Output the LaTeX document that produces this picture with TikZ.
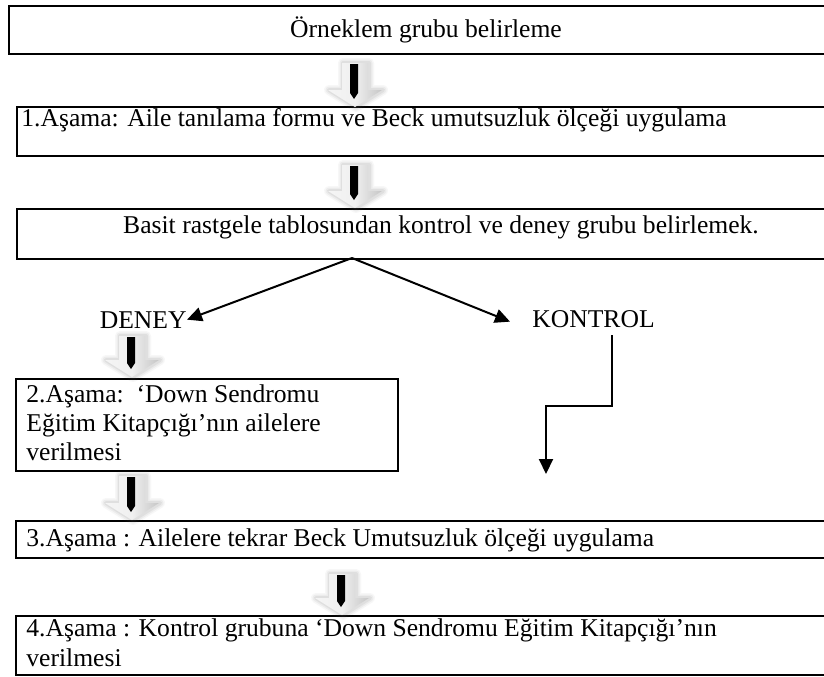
\documentclass[tikz,border=0pt]{standalone}
\usepackage{fontspec}
\setmainfont{Liberation Serif}
\usetikzlibrary{arrows.meta,calc}
\newcommand\BArrowPoly[3]{({#1-13},#2) -- ({#1+13},#2) -- ({#1+13},{#3-17}) -- ({#1+27},{#3-17}) -- (#1,#3) -- ({#1-27},{#3-17}) -- ({#1-13},{#3-17}) -- cycle}
\newcommand\BArrow[3]{%
  \foreach \w/\o in {10/0.05,7/0.07,4/0.09}{%
    \draw[black!60, opacity=\o, line width=\w*0.5pt, line join=round] \BArrowPoly{#1+1}{#2}{#3};
  }
  \shade[left color=gray!8, right color=gray!45, middle color=gray!12] \BArrowPoly{#1}{#2}{#3};
  \fill[black] ({#1-5},{#2+1}) -- ({#1+3},{#2+1}) -- ({#1+3},{#3-14}) -- ({#1-1},{#3-8}) -- ({#1-5},{#3-14}) -- cycle;
}
\begin{document}
\begin{tikzpicture}[x=0.5pt,y=-0.5pt,
  box/.style={draw, line width=1.2pt, anchor=north west, inner sep=0pt},
  txt/.style={font=\fontsize{12.8pt}{14.5pt}\selectfont, inner sep=0pt, align=left},
  con/.style={line width=1pt, -{Triangle[length=7.5pt,width=7pt]}}]
\useasboundingbox (0,0) rectangle (824,676);
\clip (0,0) rectangle (824,676);
\fill[white] (0,0) rectangle (824,676);
% boxes
\node[box, minimum width=422pt, minimum height=24pt] (b1) at (8,5) {};
\node[box, minimum width=418pt, minimum height=24.5pt] (b2) at (16,106) {};
\node[box, minimum width=418pt, minimum height=25pt] (b3) at (16,208) {};
\node[box, minimum width=191pt, minimum height=46pt] (b4) at (15,378) {};
\node[box, minimum width=418pt, minimum height=18.5pt] (b5) at (15,520) {};
\node[box, minimum width=418pt, minimum height=29.5pt] (b6) at (15,615) {};
% block arrows
\BArrow{355}{63}{107}
\BArrow{355}{165}{208}
\BArrow{132}{336}{377}
\BArrow{132}{476}{520}
\BArrow{342}{574}{615}
% texts
\node[txt, anchor=base] (t1) at (426,37) {Örneklem grubu belirleme};
\node[txt, anchor=base west] (t2) at (21,126) {1.Aşama: Aile tanılama formu ve Beck umutsuzluk ölçeği uygulama};
\node[txt, anchor=base] (t3) at (441,233) {Basit rastgele tablosundan kontrol ve deney grubu belirlemek.};
\node[txt, anchor=base west] (t4a) at (26,402) {2.Aşama:\ \ ‘Down Sendromu};
\node[txt, anchor=base west] (t4b) at (26,431) {Eğitim Kitapçığı’nın ailelere};
\node[txt, anchor=base west] (t4c) at (26,460) {verilmesi};
\node[txt, anchor=base west] (t5) at (26,546) {3.Aşama : Ailelere tekrar Beck Umutsuzluk ölçeği uygulama};
\node[txt, anchor=base west] (t6a) at (26,636) {4.Aşama : Kontrol grubuna ‘Down Sendromu Eğitim Kitapçığı’nın};
\node[txt, anchor=base west] (t6b) at (26,666) {verilmesi};
\node[txt, anchor=base east] (deney) at (187,328) {DENEY};
\node[txt, anchor=base west] (kontrol) at (532,327) {KONTROL};
% connectors
\coordinate (sp) at (352,258);
\draw[con] (sp) -- (deney.east);
\draw[con] (sp) -- ([xshift=-11pt,yshift=-1.5pt]kontrol.west);
\coordinate (k1) at ($(kontrol.base west)+(80,8)$);
\coordinate (kend) at (546,474);
\draw[con] (k1) -- ++(0,71) -| (kend);
\end{tikzpicture}
\end{document}
